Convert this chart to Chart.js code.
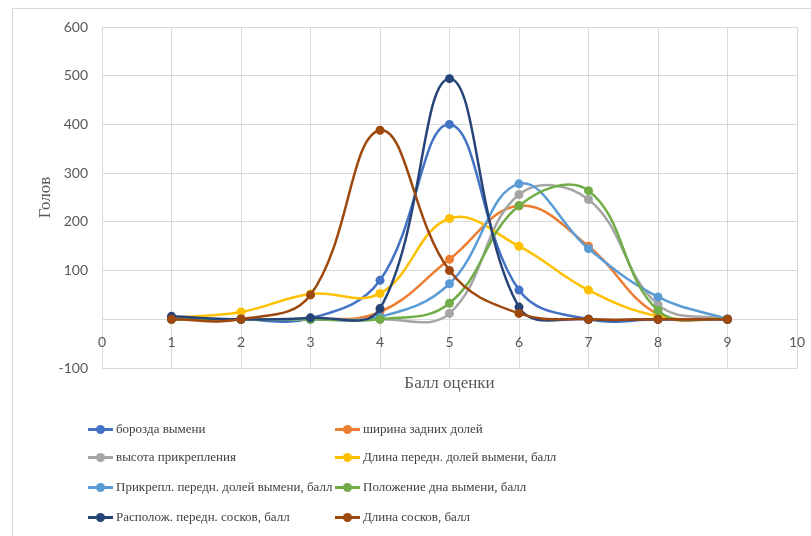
<!DOCTYPE html>
<html lang="ru">
<head>
    <meta charset="UTF-8">
    <title>Балл оценки</title>
    <script src="https://cdn.jsdelivr.net/npm/chart.js"></script>
    <style>
        html, body { margin: 0; padding: 0; background: #fff; }
        #wrap { position: relative; width: 811px; height: 536px; overflow: hidden; }
        #frame { position: absolute; left: 12px; top: 8px; width: 900px; height: 600px; border-left: 1px solid #d9d9d9; border-top: 1px solid #d9d9d9; }
        #legend { position: absolute; left: 0; top: 0; width: 811px; height: 536px; pointer-events: none; }
        .item { position: absolute; height: 20px; display: flex; align-items: center; font: 13px "Liberation Serif", serif; color: #404040; white-space: nowrap; }
        .mark { position: relative; width: 25px; height: 20px; margin-right: 3px; }
        .mark .ln { position: absolute; left: 0; right: 0; top: 9px; height: 3px; }
        .mark .dt { position: absolute; left: 8px; top: 6px; width: 9px; height: 9px; border-radius: 50%; }
    </style>
</head>
<body>
<div id="wrap">
    <div id="frame"></div>
    <canvas id="chart" width="811" height="536"></canvas>
    <div id="legend"></div>
</div>
<script>
    // Data
    const grades = [1, 2, 3, 4, 5, 6, 7, 8, 9];
    const seriesNames = [
        'борозда вымени',
        'ширина задних долей',
        'высота прикрепления',
        'Длина передн. долей вымени, балл',
        'Прикрепл. передн. долей вымени, балл',
        'Положение дна вымени, балл',
        'Располож. передн. сосков, балл',
        'Длина сосков, балл'
    ];
    const borozda     = [3, 0, 2, 80, 400, 60, 0, 0, 0];
    const shirina     = [0, 0, 0, 15, 123, 233, 150, 10, 0];
    const vysota      = [0, 0, 0, 0, 12, 256, 246, 30, 0];
    const dlinaDoley  = [3, 15, 52, 53, 207, 150, 60, 6, 0];
    const prikrepl    = [0, 0, 0, 5, 73, 278, 145, 46, 0];
    const polozhenie  = [0, 0, 0, 0, 33, 233, 264, 18, 0];
    const raspolozh   = [6, 0, 3, 22, 494, 25, 0, 0, 0];
    const dlinaSoskov = [0, 0, 50, 388, 100, 12, 0, 0, 0];
    const yTicks = [-100, 0, 100, 200, 300, 400, 500, 600];

    const seriesValues = [borozda, shirina, vysota, dlinaDoley, prikrepl, polozhenie, raspolozh, dlinaSoskov];
    const colors = ['#4472C4', '#ED7D31', '#A5A5A5', '#FFC000', '#5B9BD5', '#70AD47', '#264478', '#9E480E'];

    const datasets = seriesValues.map((vals, i) => ({
        label: seriesNames[i],
        data: vals.map((v, j) => ({ x: grades[j], y: v })),
        borderColor: colors[i],
        backgroundColor: colors[i],
        borderWidth: 2.5,
        pointRadius: 4.5,
        pointBorderWidth: 0,
        tension: 0.4,
        fill: false,
        order: seriesValues.length - i   // later series drawn on top, like Excel
    }));

    const ctx = document.getElementById('chart').getContext('2d');
    const chart = new Chart(ctx, {
        type: 'line',
        data: { datasets: datasets },
        options: {
            responsive: false,
            animation: false,
            layout: { padding: { top: 27, right: 14, left: 0, bottom: 168 } },
            plugins: { legend: { display: false }, tooltip: { enabled: false } },
            scales: {
                x: {
                    type: 'linear',
                    position: { y: 0 },
                    min: 0, max: 10,
                    afterFit: (s) => { s.height = 74; s.paddingLeft = 0; s.paddingRight = 0; },
                    grid: { color: '#d9d9d9', drawTicks: false },
                    border: { display: false },
                    ticks: { stepSize: 1, padding: 15, color: '#595959', font: { family: 'Lato', size: 14 } },
                    title: { display: true, text: 'Балл оценки', color: '#595959', padding: { top: 22, bottom: 0 },
                             font: { family: 'Liberation Serif', size: 17 } }
                },
                y: {
                    min: -100, max: 600,
                    afterFit: (s) => { s.width = 102; },
                    afterBuildTicks: (s) => { s.ticks = yTicks.map(v => ({ value: v })); },
                    grid: { color: '#d9d9d9', drawTicks: false },
                    border: { display: false },
                    ticks: { padding: 14, color: '#595959', font: { family: 'Lato', size: 14 },
                             callback: (v) => v === 0 ? '' : v },
                    title: { display: true, text: 'Голов', color: '#595959', padding: { top: 35, bottom: 0 },
                             font: { family: 'Liberation Serif', size: 17 } }
                }
            }
        }
    });

    // Two-column legend under the plot
    const legend = document.getElementById('legend');
    const colX = [88, 335];
    const rowY = [419, 447, 477, 507];
    seriesNames.forEach((name, i) => {
        const el = document.createElement('div');
        el.className = 'item';
        el.style.left = colX[i % 2] + 'px';
        el.style.top = rowY[Math.floor(i / 2)] + 'px';
        el.innerHTML = '<span class="mark"><span class="ln" style="background:' + colors[i] + '"></span>' +
            '<span class="dt" style="background:' + colors[i] + '"></span></span><span></span>';
        el.lastChild.textContent = name;
        legend.appendChild(el);
    });
</script>
</body>
</html>
